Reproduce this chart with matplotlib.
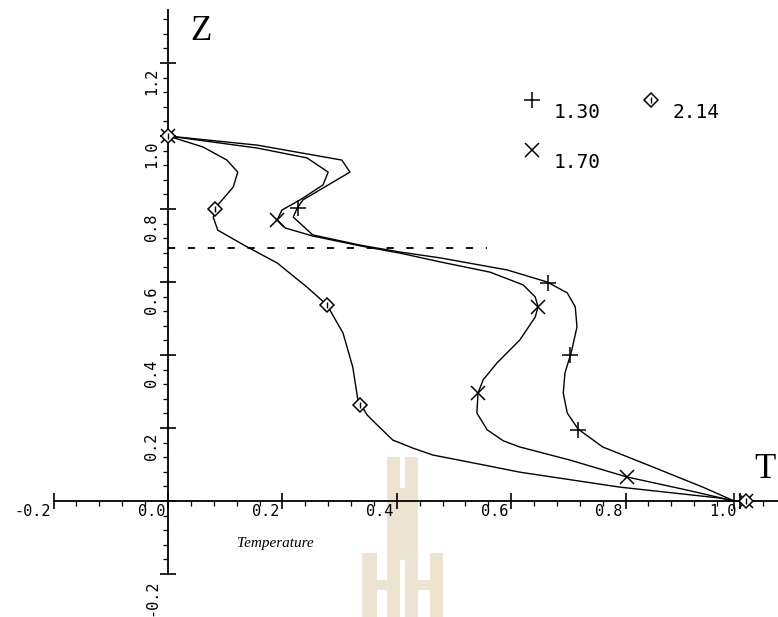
import matplotlib
matplotlib.use("Agg")
import matplotlib.pyplot as plt
from matplotlib.patches import Rectangle
import numpy as np

# ---------------- data ----------------
series_labels = ["1.30", "1.70", "2.14"]

t_130 = [0.0, 0.156, 0.304, 0.318, 0.236, 0.226, 0.219, 0.253, 0.336, 0.406, 0.476,
         0.593, 0.663, 0.698, 0.712, 0.715, 0.706, 0.703, 0.694, 0.691, 0.698, 0.717,
         0.760, 0.848, 0.935, 0.99]
z_130 = [1.0, 0.975, 0.934, 0.901, 0.825, 0.803, 0.778, 0.729, 0.701, 0.682, 0.666,
         0.633, 0.600, 0.570, 0.532, 0.477, 0.414, 0.397, 0.351, 0.296, 0.241, 0.197,
         0.148, 0.093, 0.038, 0.0]

t_170 = [0.0, 0.156, 0.243, 0.280, 0.271, 0.231, 0.199, 0.191, 0.205, 0.253, 0.336,
         0.406, 0.476, 0.563, 0.621, 0.642, 0.647, 0.642, 0.615, 0.575, 0.551, 0.542,
         0.540, 0.558, 0.586, 0.615, 0.703, 0.802, 0.907, 0.99]
z_170 = [1.0, 0.967, 0.940, 0.901, 0.866, 0.825, 0.797, 0.770, 0.748, 0.726, 0.699,
         0.679, 0.655, 0.627, 0.592, 0.559, 0.532, 0.504, 0.441, 0.378, 0.332, 0.296,
         0.241, 0.195, 0.165, 0.148, 0.112, 0.066, 0.030, 0.0]

t_214 = [0.0, 0.061, 0.103, 0.122, 0.114, 0.087, 0.079, 0.087, 0.135, 0.191, 0.243,
         0.278, 0.306, 0.323, 0.332, 0.348, 0.371, 0.393, 0.428, 0.463, 0.551, 0.615,
         0.790, 0.965, 0.99]
z_214 = [1.0, 0.970, 0.934, 0.901, 0.860, 0.811, 0.778, 0.742, 0.699, 0.652, 0.586,
         0.537, 0.460, 0.367, 0.277, 0.236, 0.200, 0.167, 0.145, 0.126, 0.099, 0.079,
         0.038, 0.008, 0.0]

# marker positions
m130_t = [0.0, 0.227, 0.664, 0.703, 0.717, 0.99]
m130_z = [1.0, 0.803, 0.597, 0.400, 0.195, 0.0]
m170_t = [0.0, 0.191, 0.647, 0.542, 0.802, 1.01]
m170_z = [1.0, 0.770, 0.532, 0.296, 0.066, 0.0]
m214_t = [0.0, 0.082, 0.278, 0.336, 1.01]
m214_z = [1.0, 0.800, 0.537, 0.263, 0.0]

# dashed reference line
dash_t = [0.0, 0.557]
dash_z = [0.693, 0.693]

xtick_vals = [-0.2, 0.0, 0.2, 0.4, 0.6, 0.8, 1.0]
xtick_labels = ["-0.2", "0.0", "0.2", "0.4", "0.6", "0.8", "1.0"]
ytick_vals = [-0.2, 0.2, 0.4, 0.6, 0.8, 1.0, 1.2]
ytick_labels = ["-0.2", "0.2", "0.4", "0.6", "0.8", "1.0", "1.2"]

# ---------------- figure ----------------
W, H = 778, 617
fig = plt.figure(figsize=(W / 100, H / 100), dpi=100)
ax = fig.add_axes([0, 0, 1, 1])

# pixel <-> data mapping (origin at pixel (168, 501))
X0, Y0, SX, SY = 168.0, 501.0, 572.0, 365.0
ax.set_xlim((0 - X0) / SX, (W - X0) / SX)
ax.set_ylim((Y0 - H) / SY, (Y0 - 0) / SY)

def px(x, y):
    return (x - X0) / SX, (Y0 - y) / SY

# watermark (light beige)
wm = "#ede3d1"
def wrect(x1, y1, x2, y2):
    (a, b) = px(x1, y2)
    (c, d) = px(x2, y1)
    ax.add_patch(Rectangle((a, b), c - a, d - b, facecolor=wm, edgecolor="none", zorder=0))
wrect(387, 457, 400, 617)
wrect(405, 457, 418, 617)
wrect(398, 488, 407, 560)
wrect(362, 553, 377, 617)
wrect(430, 553, 443, 617)
wrect(376, 580, 388, 590)
wrect(417, 580, 431, 590)

# axes spines through origin
for s in ["top", "right"]:
    ax.spines[s].set_visible(False)
ax.spines["left"].set_position(("data", 0))
ax.spines["bottom"].set_position(("data", 0))
ax.spines["left"].set_bounds(-0.2, 1.345)
ax.spines["bottom"].set_bounds(-0.2, (W - X0) / SX)
for s in ["left", "bottom"]:
    ax.spines[s].set_linewidth(1.3)
    ax.spines[s].set_zorder(3)

ax.set_xticks(xtick_vals)
ax.set_yticks([-0.2, 0.0] + ytick_vals[1:])
ax.set_xticks(np.arange(-0.2, 1.06, 0.04), minor=True)
ax.set_yticks(np.arange(-0.2, 1.33, 0.04), minor=True)
ax.tick_params(which="major", direction="inout", length=12, width=1.2,
               labelbottom=False, labelleft=False)
ax.tick_params(which="minor", direction="out", length=3.5, width=0.9)

mono = "DejaVu Sans Mono"
for v, lab in zip(xtick_vals, xtick_labels):
    ax.text(v - 3 / SX, (Y0 - 512) / SY, lab, family=mono, fontsize=11,
            ha="right", va="center", zorder=4)
for v, lab in zip(ytick_vals, ytick_labels):
    ax.text((152 - X0) / SX, v - 5 / SY, lab, family=mono, fontsize=11,
            rotation=90, ha="center", va="top", zorder=4)

# axis titles
serif = "Liberation Serif"
ax.text(*px(201, 31), "Z", family=serif, fontsize=25, ha="center", va="center")
ax.text(*px(765, 470), "T", family=serif, fontsize=25, ha="center", va="center")
ax.text(*px(275, 543), "Temperature", family=serif, style="italic", fontsize=11,
        ha="center", va="center")

# curves
lw = 1.0
ax.plot(t_130, z_130, color="black", lw=lw, zorder=5)
ax.plot(t_170, z_170, color="black", lw=lw, zorder=5)
ax.plot(t_214, z_214, color="black", lw=lw, zorder=5)

ax.plot(m130_t, m130_z, ls="none", marker="+", ms=11, mew=1.1, color="black", zorder=6)
ax.plot(m170_t, m170_z, ls="none", marker="x", ms=10, mew=1.1, color="black", zorder=6)
ax.plot(m214_t, m214_z, ls="none", marker="D", ms=7, mew=1.1, mfc="white",
        mec="black", zorder=6)
ax.plot(m214_t, m214_z, ls="none", marker="|", ms=5, mew=1.0, color="black", zorder=7)

# dashed line
ax.plot(dash_t, dash_z, color="black", lw=1.3, dashes=(4, 7), zorder=4)

# legend (manual, as in the original)
ax.plot(*px(532, 100), marker="+", ms=11, mew=1.1, color="black", ls="none")
ax.plot(*px(532, 150), marker="x", ms=10, mew=1.1, color="black", ls="none")
ax.plot(*px(651, 100), marker="D", ms=7, mew=1.1, mfc="white", mec="black", ls="none")
ax.plot(*px(651, 100), marker="|", ms=5, mew=1.0, color="black", ls="none")
ax.text(*px(554, 112), series_labels[0], family=mono, fontsize=14, ha="left", va="center")
ax.text(*px(554, 162), series_labels[1], family=mono, fontsize=14, ha="left", va="center")
ax.text(*px(672, 112), series_labels[2], family=mono, fontsize=14, ha="left", va="center")

fig.savefig("out.png", dpi=100)
